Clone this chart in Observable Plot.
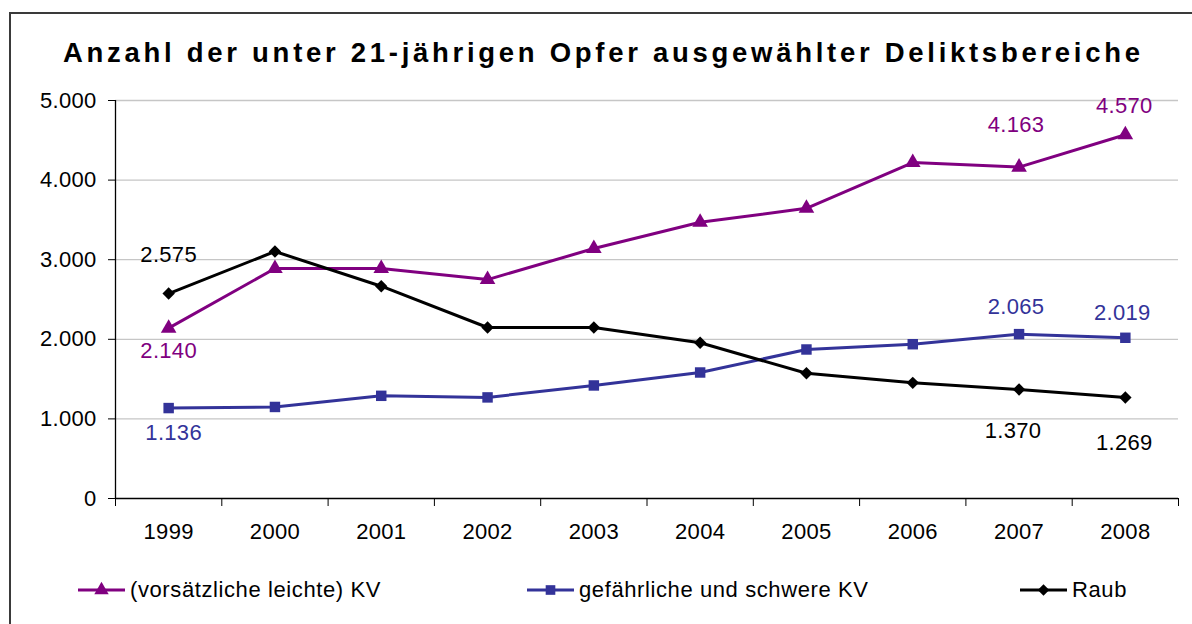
<!DOCTYPE html>
<html>
<head>
<meta charset="utf-8">
<script src="https://cdn.jsdelivr.net/npm/d3@7"></script>
<script src="https://cdn.jsdelivr.net/npm/@observablehq/plot@0.6"></script>
<style>
  html, body { margin: 0; padding: 0; background: #fff; }
  #wrap { position: relative; width: 1192px; height: 624px; overflow: hidden; background: #fff;
          font-family: "Liberation Sans", Arial, Helvetica, sans-serif; }
  #border { position: absolute; left: 9px; top: 12px; width: 1300px; height: 700px;
            border-left: 2px solid #3a3a3a; border-top: 2px solid #3a3a3a; pointer-events: none; }
  #title { position: absolute; left: 0; top: 0; }
  #chart { position: absolute; left: 0; top: 80px; }
  #legend { position: absolute; left: 0; top: 560px; width: 1192px; height: 64px; }
  .item { position: absolute; top: 17px; display: flex; align-items: center; font-size: 22px;
          letter-spacing: 0.6px; color: #000; }
  .item svg { margin-right: 5px; }
</style>
</head>
<body>
<div id="wrap">
  <div id="border"></div>
  <div id="title"></div>
  <div id="chart"></div>
  <div id="legend"></div>
</div>
<script>
const titleText = "Anzahl der unter 21-jährigen Opfer ausgewählter Deliktsbereiche";
const years = [1999, 2000, 2001, 2002, 2003, 2004, 2005, 2006, 2007, 2008];
const kvLeicht = [2140, 2890, 2890, 2750, 3140, 3470, 3645, 4220, 4163, 4570];
const kvSchwer = [1136, 1150, 1290, 1270, 1420, 1583, 1872, 1938, 2065, 2019];
const raub     = [2575, 3103, 2667, 2148, 2148, 1956, 1574, 1453, 1370, 1269];
const seriesNames = ["(vorsätzliche leichte) KV", "gefährliche und schwere KV", "Raub"];
const seriesColors = ["#800080", "#333399", "#000000"];
const seriesSymbols = ["triangle", "square", "diamond2"];
const yTicks = [0, 1000, 2000, 3000, 4000, 5000];
const labeledYears = [1999, 2007, 2008];

const seriesValues = [kvLeicht, kvSchwer, raub];
const fmt = d => d3.format(",")(d).replace(/,/g, ".");
const FONT = '"Liberation Sans", Arial, Helvetica, sans-serif';

// label placement (style only)
const labelOffset = {
  "0-1999": [0, 23], "0-2007": [-3, -42], "0-2008": [-1, -29],
  "1-1999": [5, 25], "1-2007": [-3, -27], "1-2008": [-3, -25],
  "2-1999": [0, -39], "2-2007": [-6, 42], "2-2008": [-1, 45]
};
const symbolR = {triangle: 5.8, square: 5.9, diamond2: 5.6};

const data = seriesValues.flatMap((vals, i) =>
  years.map((yr, j) => ({series: i, name: seriesNames[i], year: yr, value: vals[j]})));

// Title
const tsvg = d3.create("svg").attr("width", 1192).attr("height", 80);
tsvg.append("text").attr("x", 63).attr("y", 62)
  .attr("textLength", 1077).attr("lengthAdjust", "spacing")
  .attr("font-family", FONT).attr("font-weight", "bold").attr("font-size", 27.5)
  .attr("fill", "#000").text(titleText);
document.getElementById("title").appendChild(tsvg.node());

const xDomain = [years[0] - 0.5, years[years.length - 1] + 0.5];
const boundaries = years.map(y => y - 0.5).concat([years[years.length - 1] + 0.5]);

const marks = [
  Plot.ruleY(yTicks.filter(d => d > 0), {stroke: "#c6c6c6", strokeWidth: 1.3}),
  Plot.axisY(yTicks, {tickSize: 7, tickPadding: 12, tickFormat: fmt, label: null, fontSize: 22}),
  Plot.axisX(boundaries, {tickSize: 8, tickFormat: () => "", label: null}),
  Plot.axisX(years, {tickSize: 0, tickPadding: 25, tickFormat: d => String(d), label: null, fontSize: 22}),
  Plot.ruleY([0], {stroke: "#000", strokeWidth: 1.3}),
  Plot.ruleX([xDomain[0]], {y1: yTicks[0], y2: yTicks[yTicks.length - 1], stroke: "#000", strokeWidth: 1.3})
];
[1, 0, 2].forEach(i => {
  const d = data.filter(e => e.series === i);
  marks.push(Plot.line(d, {x: "year", y: "value", stroke: seriesColors[i], strokeWidth: 3}));
  marks.push(Plot.dot(d, {x: "year", y: "value", symbol: seriesSymbols[i], fill: seriesColors[i],
                          stroke: "none", r: symbolR[seriesSymbols[i]]}));
});
seriesValues.forEach((vals, i) => {
  labeledYears.forEach(yr => {
    const rec = data.filter(e => e.series === i && e.year === yr);
    const off = labelOffset[i + "-" + yr] || [0, 0];
    marks.push(Plot.text(rec, {x: "year", y: "value", text: d => fmt(d.value), fill: seriesColors[i],
                               dx: off[0], dy: off[1], fontSize: 22, textAnchor: "middle"}));
  });
});

const chart = Plot.plot({
  width: 1192,
  height: 480,
  marginLeft: 115,
  marginRight: 14,
  marginTop: 20,
  marginBottom: 62,
  x: {domain: xDomain},
  y: {domain: [yTicks[0], yTicks[yTicks.length - 1]]},
  style: {fontFamily: FONT, fontSize: "22px", letterSpacing: "0.3px", color: "#000", background: "transparent", overflow: "visible"},
  marks
});
document.getElementById("chart").appendChild(chart);

// Legend
const legendLeft = [78, 527, 1020];
const legend = d3.select("#legend");
seriesNames.forEach((name, i) => {
  const item = legend.append("div").attr("class", "item").style("left", legendLeft[i] + "px");
  const s = item.append("svg").attr("width", 47).attr("height", 22);
  s.append("line").attr("x1", 0).attr("x2", 47).attr("y1", 11).attr("y2", 11)
    .attr("stroke", seriesColors[i]).attr("stroke-width", 3);
  const r = symbolR[seriesSymbols[i]];
  const sym = {triangle: d3.symbolTriangle, square: d3.symbolSquare, diamond2: d3.symbolDiamond2}[seriesSymbols[i]];
  s.append("path").attr("transform", "translate(23.5,11)")
    .attr("d", d3.symbol(sym, Math.PI * r * r * 0.85)()).attr("fill", seriesColors[i]);
  item.append("span").text(name);
});
</script>
</body>
</html>
